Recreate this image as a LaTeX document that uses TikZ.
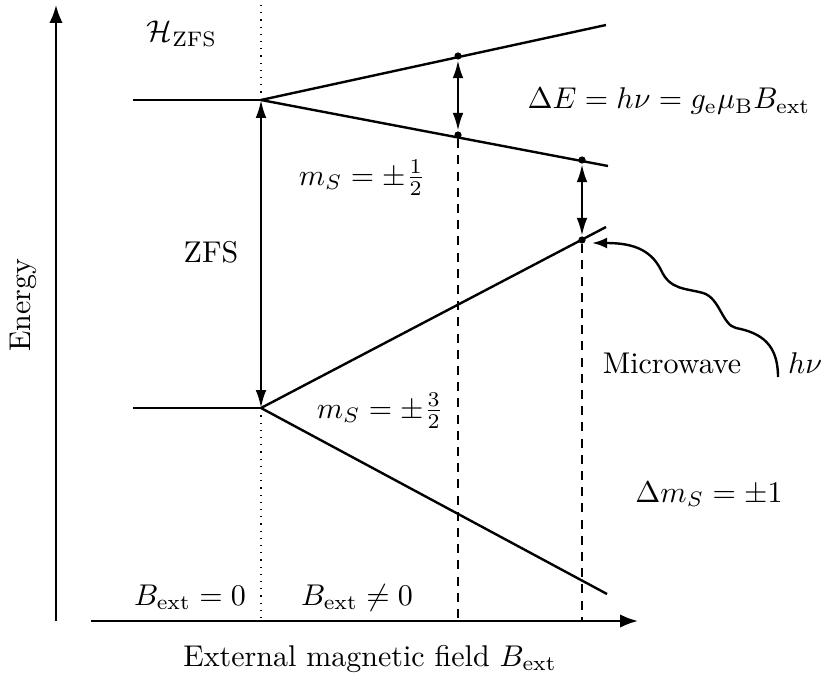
\documentclass[tikz,border=0pt]{standalone}
\usepackage{amsmath,amssymb}
\usepackage{tikz}
\usetikzlibrary{arrows.meta,positioning,calc}

\tikzset{
  level/.style={thick},
  axis/.style={thick,-{Latex[length=6pt,width=4.5pt]}},
  gap/.style={thick,{Latex[length=6pt,width=3.6pt]}-{Latex[length=6pt,width=3.6pt]}},
  guide/.style={thin,dashed,dash pattern=on 3pt off 2.4pt},
  zero/.style={thin,dotted},
  dot/.style={circle,fill,inner sep=0pt,minimum size=2.4pt},
}

\begin{document}
\begin{tikzpicture}[x=0.3333pt,y=-0.3333pt,>=Latex]
  \useasboundingbox (0,0) rectangle (825,678);
  % axes
  \coordinate (origin) at (56,621);
  \coordinate (etop) at (56,5);
  \coordinate (bstart) at (91,621);
  \coordinate (bend) at (638,621);
  \draw[axis] (origin) -- (etop);
  \draw[axis] (bstart) -- (bend);
  \node[rotate=90] (energy) at (23,305) {Energy};
  \node[anchor=base] (field) at (370,666) {External magnetic field $B_\mathrm{ext}$};

  % zero field line
  \coordinate (ztop) at (261,5);
  \coordinate (zbot) at (261,621);
  \draw[zero] (ztop) -- (zbot);

  % levels at zero field
  \coordinate (upL) at (133,100);
  \coordinate (up0) at (261,100);
  \coordinate (loL) at (133,408);
  \coordinate (lo0) at (261,408);
  \draw[level] (upL) -- (up0);
  \draw[level] (loL) -- (lo0);

  % Zeeman branches
  \coordinate (upA) at (606,25);
  \coordinate (upB) at (608,166);
  \coordinate (loA) at (606,227);
  \coordinate (loB) at (607,594);
  \draw[level] (up0) -- (upA);
  \draw[level] (up0) -- (upB);
  \draw[level] (lo0) -- (loA);
  \draw[level] (lo0) -- (loB);

  % resonance positions
  \node[dot] (r1a) at (458,56) {};
  \node[dot] (r1b) at (458,135) {};
  \node[dot] (r2a) at (582,160) {};
  \node[dot] (r2b) at (582,240) {};
  \coordinate (r1f) at (458,621);
  \coordinate (r2f) at (582,621);
  \draw[guide] (r1b) -- (r1f);
  \draw[guide] (r2b) -- (r2f);
  \draw[gap] (r1a) -- (r1b);
  \draw[gap] (r2a) -- (r2b);
  \draw[gap] (up0) -- (lo0);

  % microwave photon
  \coordinate (mw) at (778,377);
  \coordinate (mwtip) at (592,243);
  \draw[thick,-{Latex[length=5pt,width=3.6pt]}] (mw) .. controls (778,345) and (762,333) .. (736,328)
    .. controls (722,325) and (720,298) .. (703,293)
    .. controls (685,288) and (670,290) .. (661,270)
    .. controls (650,248) and (630,243) .. (mwtip);

  % labels
  \node (hzfs) at (182,34) {$\mathcal{H}_\mathrm{ZFS}$};
  \node[anchor=base west,inner xsep=0pt] (deltaE) at (527,109) {$\Delta E = h\nu = g_\mathrm{e}\mu_\mathrm{B}B_\mathrm{ext}$};
  \node[anchor=base] (half) at (362,185) {$m_S = \pm\frac{1}{2}$};
  \node (zfs) at (211,252) {ZFS};
  \node[anchor=base] (threehalf) at (380,418) {$m_S = \pm\frac{3}{2}$};
  \node[anchor=base] (microwave) at (672,373) {Microwave};
  \node[anchor=base] (hnu) at (805,373) {$h\nu$};
  \node[anchor=base] (selrule) at (709,502) {$\Delta m_S = \pm1$};
  \node[anchor=base] (bzero) at (190,605) {$B_\mathrm{ext} = 0$};
  \node[anchor=base] (bnonzero) at (357,605) {$B_\mathrm{ext} \neq 0$};
\end{tikzpicture}
\end{document}
